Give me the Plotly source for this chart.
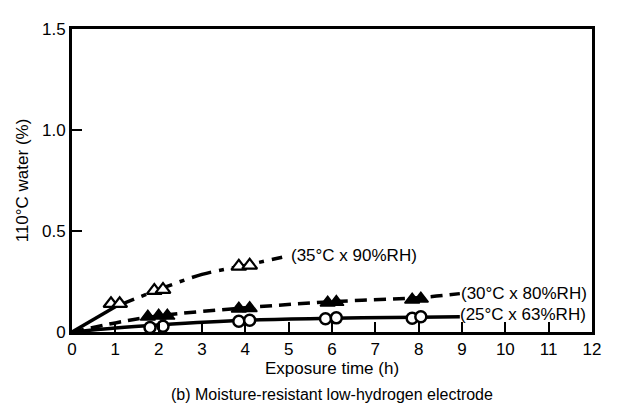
import plotly.graph_objects as go

# marker data (pairs at each time)
x25 = [1.8, 2.1, 3.85, 4.1, 5.85, 6.1, 7.85, 8.05]
y25 = [0.022, 0.028, 0.053, 0.058, 0.066, 0.07, 0.068, 0.075]
x30 = [1.75, 2.0, 2.2, 3.85, 4.1, 5.9, 6.1, 7.85, 8.05]
y30 = [0.075, 0.08, 0.08, 0.115, 0.118, 0.145, 0.148, 0.16, 0.165]
x35 = [0.9, 1.1, 1.9, 2.1, 3.85, 4.1]
y35 = [0.14, 0.14, 0.205, 0.21, 0.325, 0.33]

# fitted curves
cx25 = [0, 1, 2, 4, 6, 8, 8.95]
cy25 = [0, 0.02, 0.035, 0.058, 0.068, 0.073, 0.075]
cx30 = [0, 1, 2, 4, 6, 8, 8.95]
cy30 = [0, 0.045, 0.08, 0.12, 0.15, 0.17, 0.19]
cx35a = [0, 1]
cy35a = [0, 0.125]
cx35b = [1, 2, 3, 4, 4.85]
cy35b = [0.125, 0.21, 0.285, 0.33, 0.37]

labels = ["(35°C x 90%RH)", "(30°C x 80%RH)", "(25°C x 63%RH)"]
label_x = [5.02, 8.95, 8.92]
label_y = [0.38, 0.19, 0.088]

xticks = list(range(0, 13))
yticks = [0, 0.5, 1.0, 1.5]
yticklabels = ["0", "0.5", "1.0", "1.5"]

font = "Liberation Sans, Arial, sans-serif"
fs = 17
fig = go.Figure()
lw = 3.5
fig.add_trace(go.Scatter(x=cx25, y=cy25, mode="lines", line=dict(color="black", width=lw, shape="spline")))
fig.add_trace(go.Scatter(x=cx30, y=cy30, mode="lines", line=dict(color="black", width=lw, shape="spline", dash="12px,7px")))
fig.add_trace(go.Scatter(x=cx35a, y=cy35a, mode="lines", line=dict(color="black", width=lw)))
fig.add_trace(go.Scatter(x=cx35b, y=cy35b, mode="lines", line=dict(color="black", width=lw, shape="spline", dash="20px,8px,5px,8px")))

fig.add_trace(go.Scatter(x=x25, y=y25, mode="markers",
                         marker=dict(symbol="circle", size=11, color="white", line=dict(color="black", width=2.5))))
fig.add_trace(go.Scatter(x=x30, y=y30, mode="markers",
                         marker=dict(symbol="triangle-up", size=13, color="black", line=dict(color="black", width=1.5))))
fig.add_trace(go.Scatter(x=x35, y=y35, mode="markers",
                         marker=dict(symbol="triangle-up", size=13, color="white", line=dict(color="black", width=2.2))))

for t, lx, ly in zip(labels, label_x, label_y):
    fig.add_annotation(x=lx, y=ly, text=t, xref="x", yref="y", xanchor="left", yanchor="middle",
                       showarrow=False, font=dict(family=font, size=fs, color="black"), borderpad=0)

fig.add_annotation(x=0.5, y=-0.205, xref="paper", yref="paper", text="(b) Moisture-resistant low-hydrogen electrode",
                   showarrow=False, font=dict(family=font, size=16, color="black"), yanchor="middle")

fig.update_layout(
    width=609, height=398, showlegend=False,
    margin=dict(l=62, r=25, t=12, b=74),
    plot_bgcolor="white", paper_bgcolor="white",
    font=dict(family=font, size=fs, color="black"),
    xaxis=dict(range=[0, 12], tickvals=xticks, ticks="inside", ticklen=10, tickwidth=1.5, tickcolor="black",
               showline=True, linewidth=3, linecolor="black", mirror=True, showgrid=False, zeroline=False,
               title=dict(text="Exposure time (h)", standoff=2, font=dict(size=fs)), tickfont=dict(size=fs)),
    yaxis=dict(range=[0, 1.5], tickvals=yticks, ticktext=yticklabels, ticks="inside", ticklen=10, tickwidth=1.5,
               tickcolor="black", showline=True, linewidth=3, linecolor="black", mirror=True, showgrid=False,
               zeroline=False, title=dict(text="110°C water (%)", standoff=10, font=dict(size=fs)), tickfont=dict(size=fs)),
)
fig.write_html("out.html")
